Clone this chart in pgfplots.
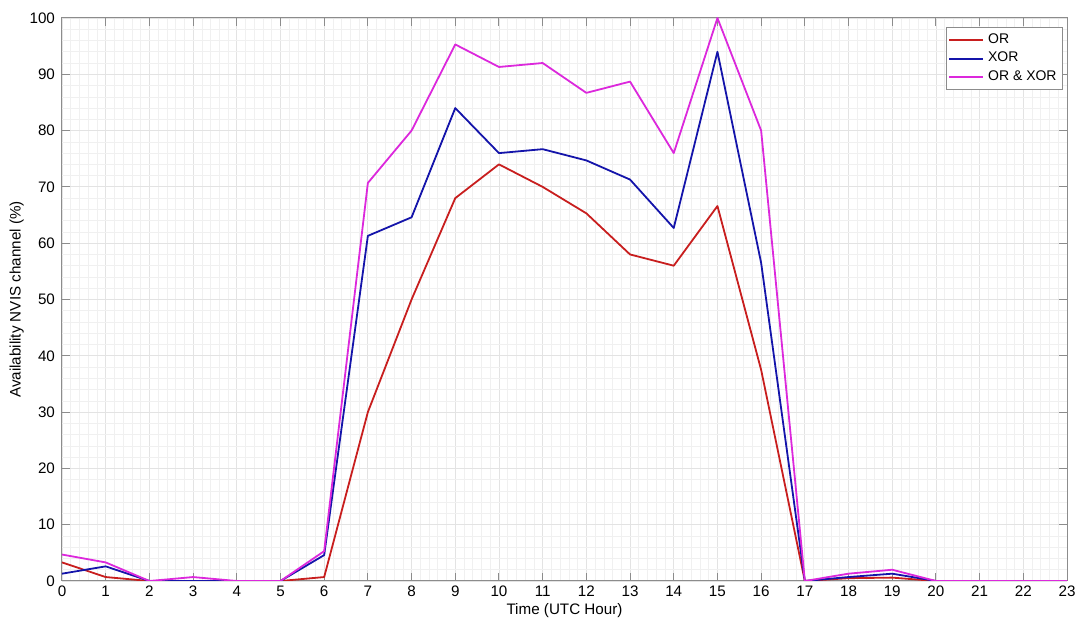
\documentclass[border=0pt]{standalone}
\usepackage{fontspec}
\setmainfont{Liberation Sans}
\usepackage{pgfplots}
\pgfplotsset{compat=1.18}
\usetikzlibrary{calc}
\definecolor{lnred}{RGB}{200,30,30}
\definecolor{lnblue}{RGB}{20,20,170}
\definecolor{lnmag}{RGB}{220,40,220}
\begin{document}
\begin{tikzpicture}
\begin{axis}[name=ax, scale only axis, width=502.5pt, height=281.5pt,
  xmin=0, xmax=23, ymin=0, ymax=100,
  xtick={0,...,23}, ytick={0,10,...,100},
  minor x tick num=4, minor y tick num=4, grid=both,
  major grid style={draw=black!11, line width=0.4pt},
  minor grid style={draw=black!6, line width=0.3pt},
  axis line style={draw=black!45, line width=0.5pt},
  major tick style={draw=black!45, line width=0.5pt},
  major tick length=4pt, minor tick length=0pt,
  tick align=inside,
  ticklabel style={font=\fontsize{7.6}{9}\selectfont},
  /pgf/number format/assume math mode=true,
  xticklabel style={yshift=1pt},
  xlabel={Time (UTC Hour)}, ylabel={Availability NVIS channel (\%)},
  label style={font=\fontsize{7.6}{9}\selectfont},
  xlabel style={yshift=3.5pt},
  ylabel style={yshift=-4pt},
  legend style={at={(1,1)}, anchor=north east, xshift=-2pt, yshift=-4.5pt,
    draw=black!45, font=\fontsize{7}{7.5}\selectfont, inner sep=1pt,
    row sep=-1pt, cells={anchor=west}},
  every axis plot/.append style={line width=0.9pt, line join=round}
]
\addplot[color=lnred] coordinates {(0,3.3)(1,0.7)(2,0)(3,0)(4,0)(5,0)(6,0.7)(7,30)(8,50)(9,68)(10,74)(11,70)(12,65.3)(13,58)(14,56)(15,66.6)(16,37.5)(17,0)(18,0.5)(19,0.6)(20,0)(21,0)(22,0)(23,0)};
\addlegendentry{OR}
\addplot[color=lnblue, legend image post style={draw=lnblue, line width=1pt}] coordinates {(0,1.3)(1,2.6)(2,0)(3,0)(4,0)(5,0)(6,4.6)(7,61.3)(8,64.6)(9,84)(10,76)(11,76.7)(12,74.7)(13,71.3)(14,62.7)(15,94)(16,56.5)(17,0)(18,0.7)(19,1.3)(20,0)(21,0)(22,0)(23,0)};
\addlegendentry{XOR}
\addplot[color=lnmag] coordinates {(0,4.7)(1,3.3)(2,0)(3,0.7)(4,0)(5,0)(6,5.3)(7,70.7)(8,80)(9,95.3)(10,91.3)(11,92)(12,86.7)(13,88.7)(14,76)(15,100)(16,80)(17,0)(18,1.3)(19,2)(20,0)(21,0)(22,0)(23,0)};
\addlegendentry{OR \& XOR}
\end{axis}
\pgfresetboundingbox
\path[use as bounding box] ($(ax.south west)+(-31pt,-18.5pt)$) rectangle ($(ax.north east)+(5.5pt,9pt)$);
\end{tikzpicture}
\end{document}
